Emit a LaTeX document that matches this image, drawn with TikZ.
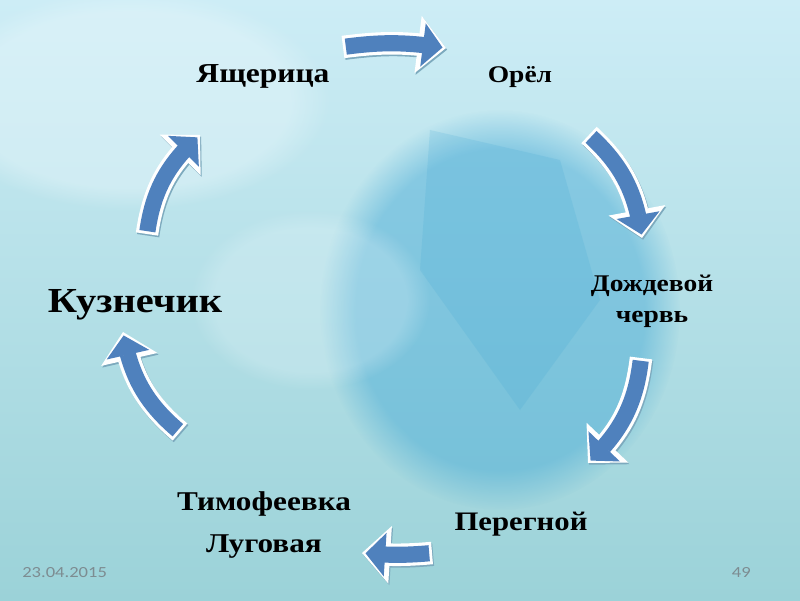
\documentclass[tikz,border=0pt]{standalone}
\usepackage{fontspec}
\setmainfont{Liberation Serif}[FakeStretch=1.15]
\newfontfamily\footfont{Carlito}[FakeStretch=1.2]
\usetikzlibrary{arrows.meta,bending,fadings}
\definecolor{CycBlue}{RGB}{79,129,189}
\definecolor{CycShadow}{RGB}{125,170,190}
\definecolor{BgTop}{RGB}{205,237,246}
\definecolor{BgBottom}{RGB}{155,210,216}
\definecolor{BgDeep}{RGB}{50,160,210}
\definecolor{BgPale}{RGB}{235,248,252}
\definecolor{FootGray}{RGB}{125,140,145}
\tikzset{
  cyc/label/.style={
    font=\bfseries,
    text=black,
    align=center,
    inner sep=0pt
  },
  cyc/arrow/.style={
    draw=CycBlue,
    line width=11.5pt,
    -{Triangle[length=14pt,width=31pt,line width=0pt]},
    shorten >=2.5pt,
    shorten <=2pt,
    preaction={draw=CycShadow, line width=16pt, shorten >=0pt, shorten <=0pt,
      -{Triangle[length=20pt,width=41pt,line width=0pt]},
      transform canvas={shift={(0.8pt,-1.2pt)}}},
    preaction={draw=white, line width=16pt, shorten >=0pt, shorten <=0pt,
      -{Triangle[length=20pt,width=41pt,line width=0pt]}}
  },
  cyc/foot/.style={font=\footfont\fontsize{11}{13}\selectfont, text=FootGray, inner sep=0pt}
}

\begin{document}
\begin{tikzpicture}[x=0.025cm,y=0.025cm]
  \useasboundingbox (0,0) rectangle (800,600);
  % background
  \shade[top color=BgTop, bottom color=BgBottom] (0,0) rectangle (800,600);
  \fill[BgDeep, opacity=0.4, path fading=circle with fuzzy edge 20 percent]
    (500,290) ellipse (180 and 200);
  \fill[BgDeep, opacity=0.15] (430,470) -- (560,440) -- (600,300) -- (520,190) -- (420,330) -- cycle;
  \fill[BgPale, opacity=0.25, path fading=circle with fuzzy edge 20 percent]
    (310,300) ellipse (120 and 90);
  \fill[BgPale, opacity=0.4, path fading=circle with fuzzy edge 20 percent]
    (130,500) ellipse (200 and 110);

  % labels
  \node[cyc/label, font=\bfseries\fontsize{19.5}{23}\selectfont, anchor=base] (lizard) at (263,517) {Ящерица};
  \node[cyc/label, font=\bfseries\fontsize{17}{20}\selectfont, anchor=base] (eagle) at (520,517) {Орёл};
  \node[cyc/label, font=\bfseries\fontsize{17}{20}\selectfont] (worm) at (652,299) {Дождевой\\[2pt]червь};
  \node[cyc/label, font=\bfseries\fontsize{19}{22}\selectfont, anchor=base] (humus) at (521,70) {Перегной};
  \node[cyc/label, font=\bfseries\fontsize{19.3}{22}\selectfont] (grass) at (264,75) {Тимофеевка\\[8pt]Луговая};
  \node[cyc/label, font=\bfseries\fontsize{25}{29}\selectfont, anchor=base] (hopper) at (135,288) {Кузнечик};

  % arrow ends
  \coordinate (a1s) at (343,553);
  \coordinate (a1e) at (446,552);
  \coordinate (a2s) at (589,465);
  \coordinate (a2e) at (642,362);
  \coordinate (a3s) at (641,242);
  \coordinate (a3e) at (588,137);
  \coordinate (a4s) at (432,47);
  \coordinate (a4e) at (362,47);
  \coordinate (a5s) at (180,168);
  \coordinate (a5e) at (123,268);
  \coordinate (a6s) at (147,366);
  \coordinate (a6e) at (200,465);

  \draw[cyc/arrow] (a1s) to[bend left=8] (a1e);
  \draw[cyc/arrow] (a2s) to[bend left=20] (a2e);
  \draw[cyc/arrow] (a3s) to[bend left=20] (a3e);
  \draw[cyc/arrow] (a4s) to[bend left=5] (a4e);
  \draw[cyc/arrow] (a5s) to[bend left=20] (a5e);
  \draw[cyc/arrow] (a6s) to[bend left=20] (a6e);

  % footer
  \node[cyc/foot, anchor=base west] (date) at (22,23) {23.04.2015};
  \node[cyc/foot, anchor=base east] (page) at (751,23) {49};
\end{tikzpicture}
\end{document}
